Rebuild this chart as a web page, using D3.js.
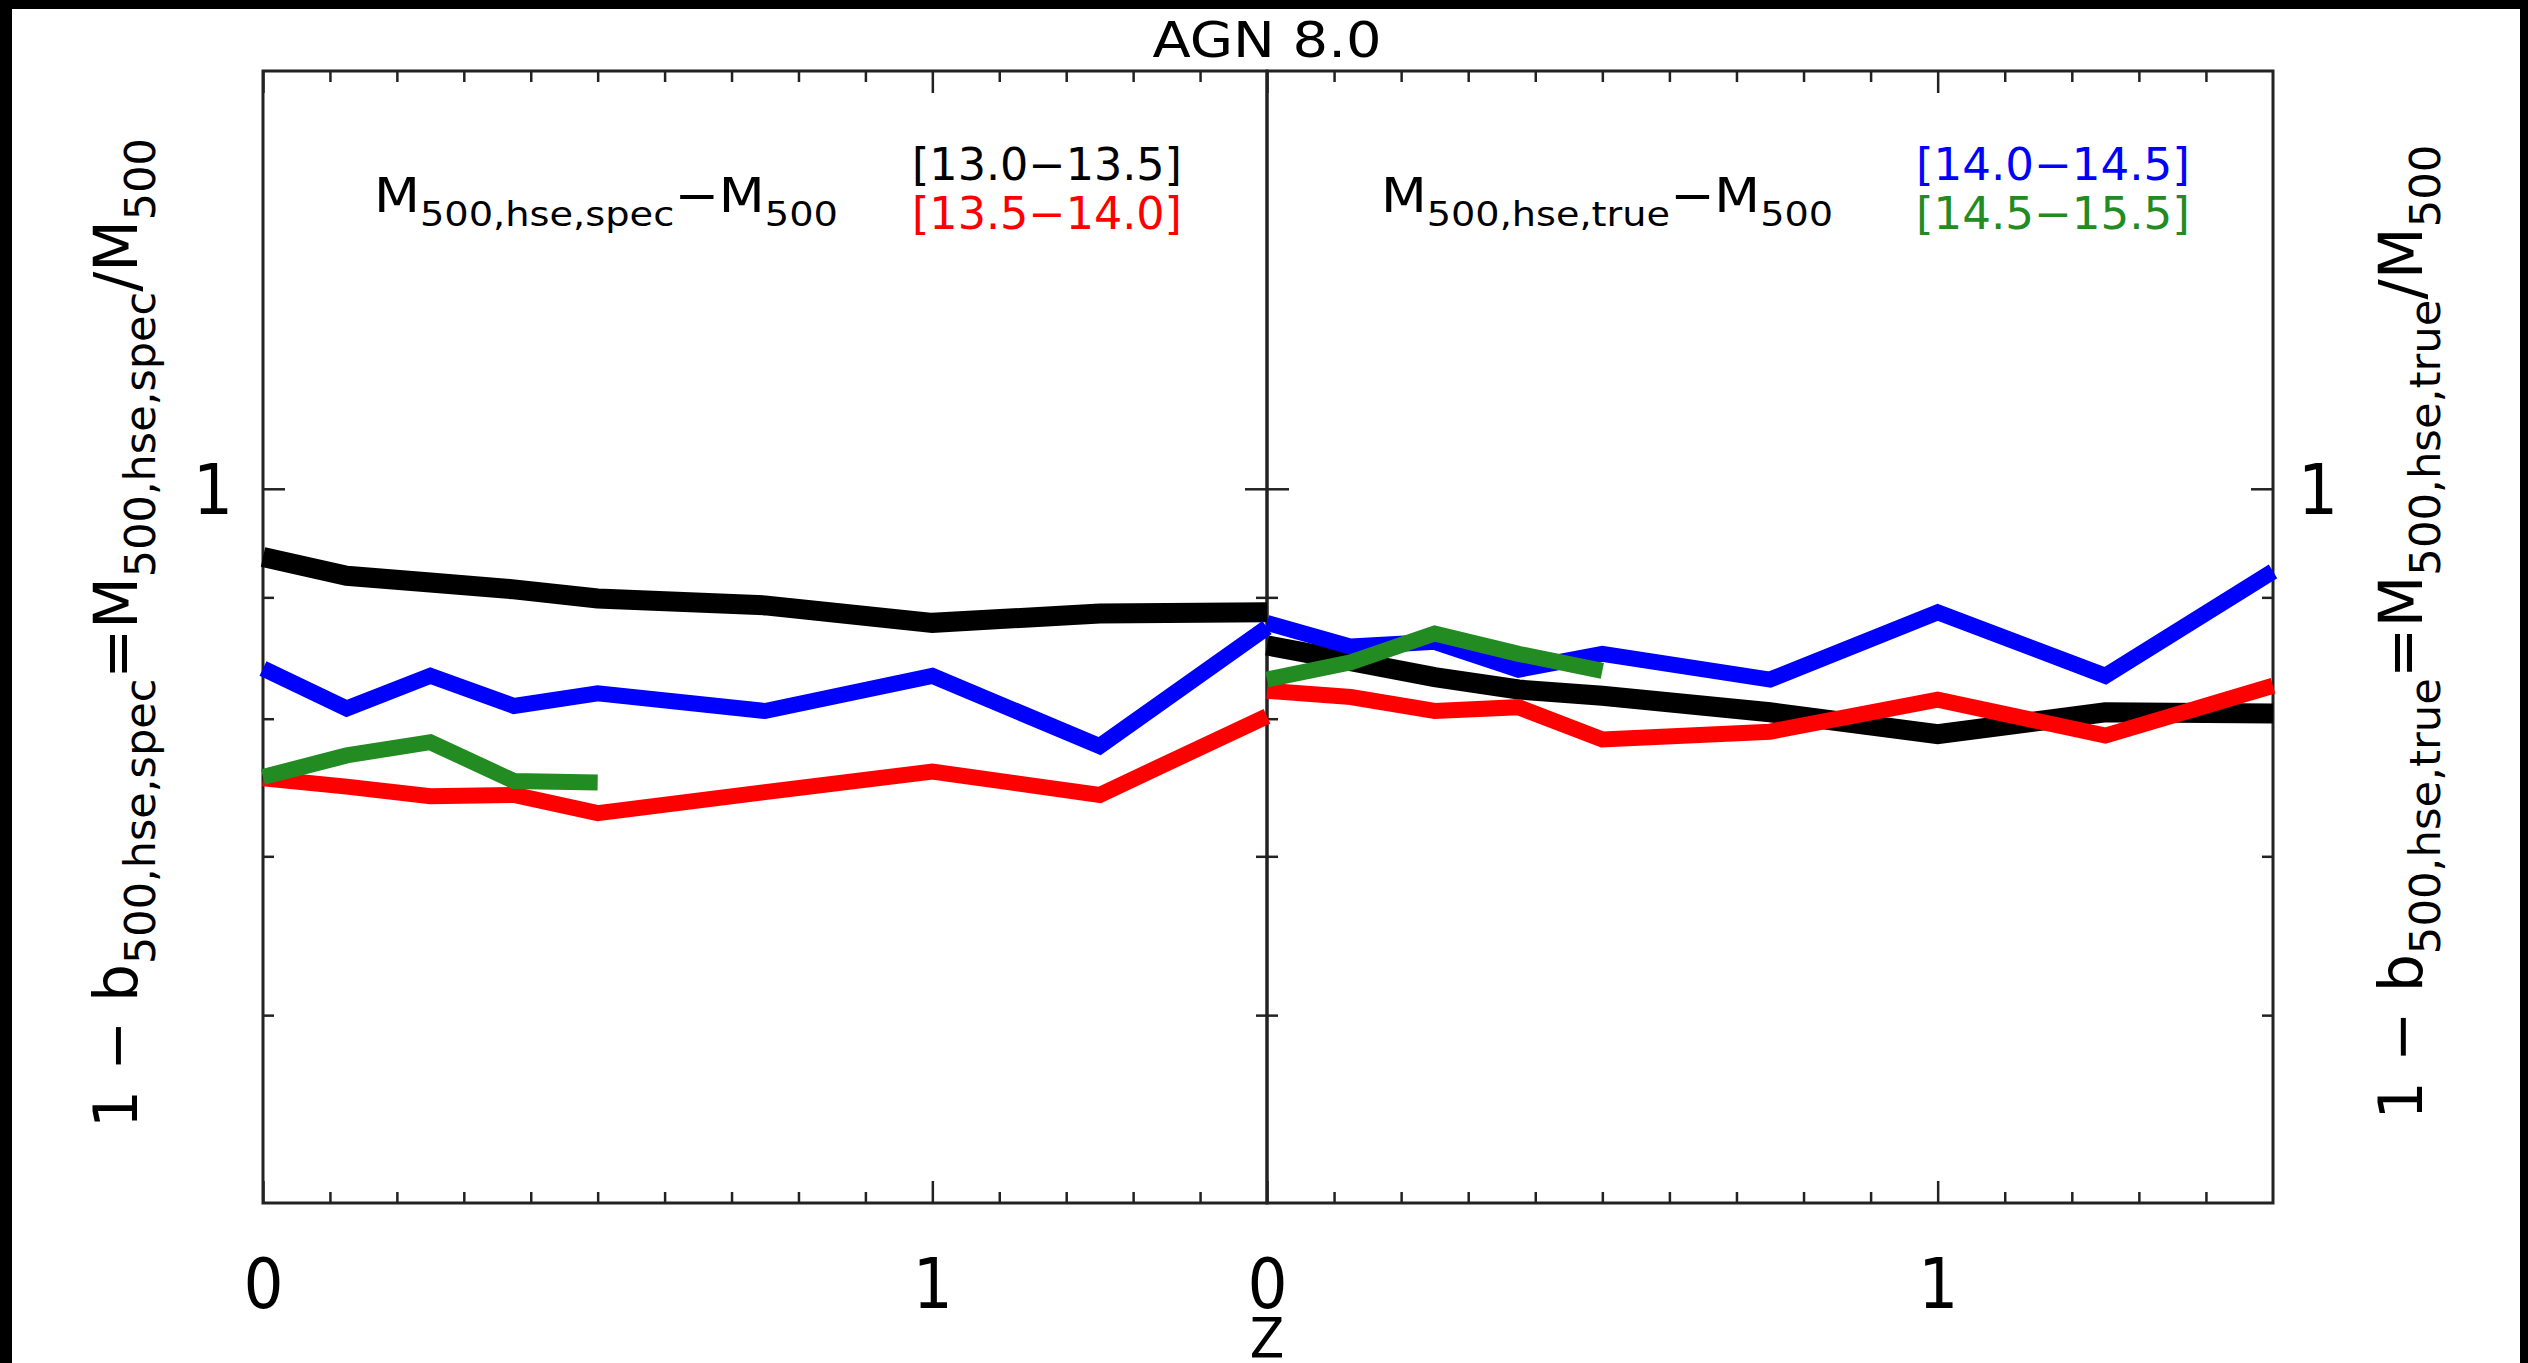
<!DOCTYPE html>
<html lang="en">
<head>
<meta charset="UTF-8">
<title>AGN 8.0</title>
<script src="https://d3js.org/d3.v7.min.js"></script>
<style>
    body { margin: 0; background: #000; overflow: hidden; }
    svg { display: block; }
    .narrow { font-family: "DejaVu Sans Condensed", "Liberation Sans Narrow", sans-serif; font-stretch: condensed; }
    .wide { font-family: "DejaVu Sans", Verdana, sans-serif; }
</style>
</head>
<body>
<svg id="chart" width="2528" height="1363"></svg>
<script>
// redshift grid of the curves
const zGrid = [0, 0.125, 0.25, 0.375, 0.5, 0.75, 1.0, 1.25, 1.5];
const zGreen = [0, 0.125, 0.25, 0.375, 0.5];

// left panel: M500,hse,spec  (one series per mass bin)
const specBin1 = [0.936, 0.919, 0.913, 0.907, 0.899, 0.893, 0.878, 0.886, 0.887];
const specBin2 = [0.755, 0.749, 0.742, 0.743, 0.730, 0.745, 0.760, 0.743, 0.802];
const specBin3 = [0.840, 0.808, 0.834, 0.810, 0.820, 0.806, 0.834, 0.779, 0.874];
const specBin4 = [0.756, 0.772, 0.782, 0.753, 0.752];

// right panel: M500,hse,true
const trueBin1 = [0.859, 0.846, 0.833, 0.823, 0.818, 0.805, 0.788, 0.805, 0.804];
const trueBin2 = [0.822, 0.817, 0.806, 0.809, 0.784, 0.790, 0.815, 0.787, 0.826];
const trueBin3 = [0.878, 0.858, 0.862, 0.839, 0.852, 0.831, 0.887, 0.834, 0.923];
const trueBin4 = [0.831, 0.845, 0.869, 0.852, 0.838];

// mass bins (legend)
const binLabels = ["[13.0\u221213.5]", "[13.5\u221214.0]", "[14.0\u221214.5]", "[14.5\u221215.5]"];
const binColors = ["#000000", "#ff0000", "#0000ff", "#228b22"];

// ticks
const xMajorTicks = [0, 1];
const xMinorTicks = [0.1, 0.2, 0.3, 0.4, 0.5, 0.6, 0.7, 0.8, 0.9, 1.1, 1.2, 1.3, 1.4];
const yMajorTicks = [1];
const yMinorTicks = [0.6, 0.7, 0.8, 0.9];

const svg = d3.select("#chart");
const plotTop = 71, plotBottom = 1203;

svg.append("rect").attr("x", 12).attr("y", 9).attr("width", 2508).attr("height", 1354).attr("fill", "#fff");

const y = d3.scaleLog().domain([0.5, 1.5]).range([plotBottom, plotTop]);

const panels = [
    { x0: 263, x1: 1267, series: [specBin1, specBin2, specBin3, specBin4] },
    { x0: 1267, x1: 2273, series: [trueBin1, trueBin2, trueBin3, trueBin4] }
];

const frameColor = "#222";

panels.forEach(p => {
    const x = d3.scaleLinear().domain([0, 1.5]).range([p.x0, p.x1]);
    p.x = x;
    const g = svg.append("g");

    // ticks, all pointing inward
    const tickSets = [
        [d3.axisBottom(x), `translate(0,${plotBottom})`, xMinorTicks, xMajorTicks],
        [d3.axisTop(x), `translate(0,${plotTop})`, xMinorTicks, xMajorTicks],
        [d3.axisLeft(y), `translate(${p.x0},0)`, yMinorTicks, yMajorTicks],
        [d3.axisRight(y), `translate(${p.x1},0)`, yMinorTicks, yMajorTicks]
    ];
    tickSets.forEach(([ax, tr, minor, major]) => {
        [[minor, 11], [major, 22]].forEach(([vals, len]) => {
            const a = g.append("g").attr("transform", tr)
                .call(ax.tickValues(vals).tickSize(-len).tickFormat(""));
            a.select(".domain").remove();
            a.selectAll("line").attr("stroke", frameColor).attr("stroke-width", 2.5);
        });
    });

    g.append("rect")
        .attr("x", p.x0).attr("y", plotTop)
        .attr("width", p.x1 - p.x0).attr("height", plotBottom - plotTop)
        .attr("fill", "none").attr("stroke", frameColor).attr("stroke-width", 3);

    // x tick labels
    const lab = g.append("g").attr("transform", `translate(0,${plotBottom})`)
        .call(d3.axisBottom(x).tickValues(xMajorTicks).tickSize(0).tickFormat(d3.format("d")));
    lab.select(".domain").remove();
    lab.selectAll("text").attr("class", "narrow").attr("y", 105).attr("dy", 0)
        .attr("font-size", 70).attr("fill", "#000");
});

// y tick labels
const yl = svg.append("g").attr("transform", `translate(${panels[0].x0},0)`)
    .call(d3.axisLeft(y).tickValues(yMajorTicks).tickSize(0).tickPadding(30).tickFormat(d3.format("d")));
yl.select(".domain").remove();
yl.selectAll("text").attr("class", "narrow").attr("font-size", 70).attr("dy", "0.36em").attr("fill", "#000");
const yr = svg.append("g").attr("transform", `translate(${panels[1].x1},0)`)
    .call(d3.axisRight(y).tickValues(yMajorTicks).tickSize(0).tickPadding(25).tickFormat(d3.format("d")));
yr.select(".domain").remove();
yr.selectAll("text").attr("class", "narrow").attr("font-size", 70).attr("dy", "0.36em").attr("fill", "#000");

// curves, black first and green last
const widths = [20, 16, 16, 16];
panels.forEach(p => {
    p.series.forEach((vals, i) => {
        const zs = vals.length === zGrid.length ? zGrid : zGreen;
        const line = d3.line().x((d, k) => p.x(zs[k])).y(d => y(d));
        svg.append("path").datum(vals)
            .attr("d", line)
            .attr("fill", "none")
            .attr("stroke", binColors[i])
            .attr("stroke-width", widths[i])
            .attr("stroke-linejoin", "miter")
            .attr("stroke-linecap", "butt");
    });
});

// text with subscripts; either fit by font size or squeezed horizontally to a width
function richText(parent, parts, opts) {
    function build(fs) {
        parent.selectAll("*").remove();
        const t = parent.append("text")
            .attr("class", opts.cls)
            .attr("text-anchor", opts.anchor || "start")
            .attr("fill", opts.color || "#000")
            .attr("font-size", fs);
        let shift = 0;
        parts.forEach(([s, sub]) => {
            const want = sub ? fs * 0.3 : 0;
            t.append("tspan")
                .attr("font-size", sub ? fs * 0.72 : fs)
                .attr("dy", want - shift)
                .text(s);
            shift = want;
        });
        return t;
    }
    let t = build(opts.size);
    const w = t.node().getComputedTextLength();
    if (opts.width && opts.squeeze) {
        t.attr("transform", `scale(${opts.width / w},1)`);
    } else if (opts.width) {
        t = build(opts.size * opts.width / w);
    }
    return t;
}

// title
richText(svg.append("g").attr("transform", "translate(1267,57)"),
    [["AGN 8.0", false]], { cls: "narrow", size: 49, width: 229, squeeze: true, anchor: "middle" });

// legend texts
richText(svg.append("g").attr("transform", "translate(374,212)"),
    [["M", false], ["500,hse,spec", true], ["\u2212M", false], ["500", true]],
    { cls: "narrow", size: 48, width: 464, squeeze: true });
richText(svg.append("g").attr("transform", "translate(1381,212)"),
    [["M", false], ["500,hse,true", true], ["\u2212M", false], ["500", true]],
    { cls: "narrow", size: 48, width: 452, squeeze: true });

const binPos = [[912, 180], [912, 229], [1916, 180], [1916, 229]];
binLabels.forEach((s, i) => {
    richText(svg.append("g").attr("transform", `translate(${binPos[i][0]},${binPos[i][1]})`),
        [[s, false]], { cls: "narrow", size: 44, width: i < 2 ? 270 : 274, squeeze: true, color: binColors[i] });
});

// y axis titles
richText(svg.append("g").attr("transform", "translate(137,633) rotate(-90)"),
    [["1 \u2212 b", false], ["500,hse,spec", true], ["=M", false], ["500,hse,spec", true], ["/M", false], ["500", true]],
    { cls: "wide", size: 64, width: 990, anchor: "middle" });
richText(svg.append("g").attr("transform", "translate(2422,632) rotate(-90)"),
    [["1 \u2212 b", false], ["500,hse,true", true], ["=M", false], ["500,hse,true", true], ["/M", false], ["500", true]],
    { cls: "wide", size: 64, width: 975, anchor: "middle" });

// x axis title
svg.append("text").attr("class", "narrow").attr("x", 1267).attr("y", 1357)
    .attr("text-anchor", "middle").attr("font-size", 56).text("Z");
</script>
</body>
</html>
